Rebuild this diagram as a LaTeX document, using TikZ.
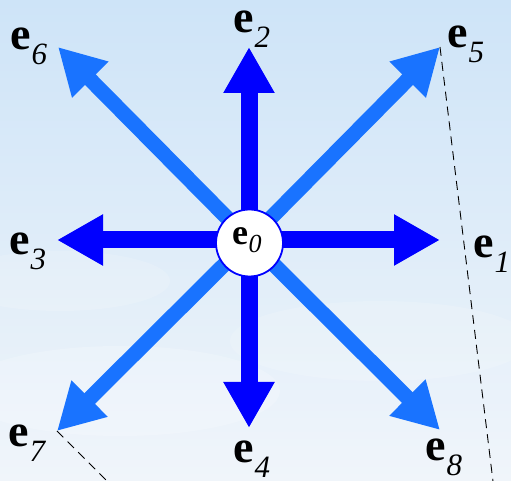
\documentclass[tikz,border=0pt]{standalone}
\usepackage{fontspec}
\setmainfont{Liberation Serif}
\newfontfamily\labfont{Liberation Serif}
\usetikzlibrary{arrows.meta}
\definecolor{axisblue}{RGB}{0,0,255}
\definecolor{diagblue}{RGB}{25,115,255}
\definecolor{bgtop}{RGB}{206,228,248}
\definecolor{bgbot}{RGB}{240,245,250}
\newcommand{\elab}[1]{{\labfont\fontsize{46}{46}\selectfont\bfseries e}\kern1pt\raisebox{-15pt}{\labfont\fontsize{31}{31}\selectfont\itshape #1}}
\begin{document}
\begin{tikzpicture}[x=1pt,y=1pt,
  axisarrow/.style={draw=axisblue, line width=17pt, -{Triangle[length=46pt,width=48pt]}},
  diagarrow/.style={draw=diagblue, line width=15pt, -{Triangle[length=46pt,width=48pt]}},
  guide/.style={black, line width=0.9pt, dash pattern=on 9pt off 6pt},
  lab/.style={anchor=base west, inner sep=0pt}]
\useasboundingbox (0,0) rectangle (511,481);
\shade[top color=bgtop, bottom color=bgbot] (0,0) rectangle (511,481);
\fill[white, opacity=0.2] (120,90) ellipse (160 and 45);
\fill[white, opacity=0.15] (380,140) ellipse (150 and 40);
\fill[white, opacity=0.15] (60,200) ellipse (110 and 30);
\clip (0,0) rectangle (511,481);
\coordinate (c) at (249,241);
\coordinate (t1) at (440,241);
\coordinate (t2) at (249,434);
\coordinate (t3) at (57,241);
\coordinate (t4) at (249,53);
\coordinate (t5) at (440,434);
\coordinate (t6) at (58,434);
\coordinate (t7) at (57,50);
\coordinate (t8) at (440,51);
\coordinate (g1) at (501,-66);
\coordinate (g2) at (157,-50);
\draw[guide] (t5) -- (g1);
\draw[guide] (t7) -- (g2);
\draw[diagarrow] (c) -- (t5);
\draw[diagarrow] (c) -- (t6);
\draw[diagarrow] (c) -- (t7);
\draw[diagarrow] (c) -- (t8);
\draw[axisarrow] (c) -- (t1);
\draw[axisarrow] (c) -- (t2);
\draw[axisarrow] (c) -- (t3);
\draw[axisarrow] (c) -- (t4);
\node[circle, draw=axisblue, line width=1.8pt, fill=white, minimum size=67pt, inner sep=0pt] (e0) at (249.5,238) {};
\node[lab] (l0) at (232,236) {{\labfont\fontsize{36}{36}\selectfont\bfseries e}\kern0.5pt\raisebox{-8pt}{\labfont\fontsize{26}{26}\selectfont\itshape 0}};
\node[lab] (l1) at (473,223) {\elab{1}};
\node[lab] (l2) at (233,448) {\elab{2}};
\node[lab] (l3) at (9,226) {\elab{3}};
\node[lab] (l4) at (233,18) {\elab{4}};
\node[lab] (l5) at (447,433) {\elab{5}};
\node[lab] (l6) at (10,431) {\elab{6}};
\node[lab] (l7) at (8,34) {\elab{7}};
\node[lab] (l8) at (425,20) {\elab{8}};
\end{tikzpicture}
\end{document}
